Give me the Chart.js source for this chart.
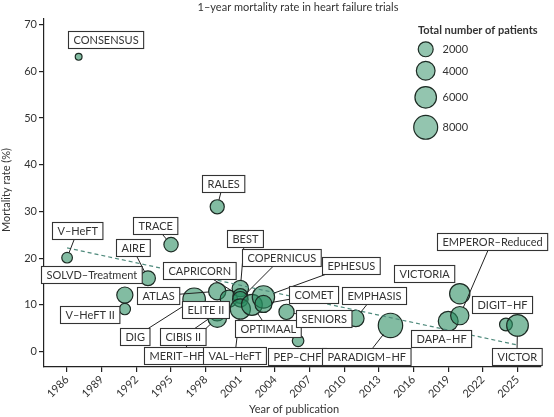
<!DOCTYPE html>
<html><head><meta charset="utf-8">
<script src="https://cdn.jsdelivr.net/npm/chart.js@4.4.1/dist/chart.umd.min.js"></script>
<style>html,body{margin:0;padding:0;background:#fff;}#wrap{width:554px;height:417px;}</style>
</head><body><div id="wrap"><canvas id="c" width="554" height="417"></canvas></div>
<script>
// ---- data ----
const trials = ['CONSENSUS','V\u2013HeFT','SOLVD\u2013Treatment','V\u2013HeFT II','AIRE','TRACE','DIG','ATLAS','RALES','CIBIS II','MERIT\u2013HF','ELITE II','BEST','CAPRICORN','COPERNICUS','VAL\u2013HeFT','OPTIMAAL','EPHESUS','COMET','SENIORS','PEP\u2013CHF','EMPHASIS','PARADIGM\u2013HF','DAPA\u2013HF','VICTORIA','EMPEROR\u2013Reduced','DIGIT\u2013HF','VICTOR'];
const years = [1987,1986,1991,1991,1993,1995,1997,1999,1999,1999,1999,2000,2001,2001,2001,2001,2002,2003,2003,2005,2006,2011,2014,2019,2020,2020,2024,2025];
const rates = [63.1,20.1,12.1,9.1,15.7,22.9,11.2,12.9,31.0,8.3,7.2,11.3,13.5,11.9,11.2,9.1,10.0,11.7,10.2,8.5,2.3,7.1,5.6,6.5,12.4,7.7,5.8,5.6];
const patients = [253,642,2569,804,2006,1749,6800,3164,1663,2647,3991,3152,2708,1959,2289,5010,5477,6632,3029,2128,850,2737,8442,4744,5050,3730,1212,6105];
const trendYears = [1986, 2025];
const trendRates = [22.2, 1.4];
const yearTicks = [1986,1989,1992,1995,1998,2001,2004,2007,2010,2013,2016,2019,2022,2025];
const rateTicks = [0,10,20,30,40,50,60,70];
const legendSizes = [2000,4000,6000,8000];

// ---- label layout: offset of label box centre from its point (px), and whether a leader line is drawn ----
const labelLayout = {
  'CONSENSUS':[27.4,-17,false], 'V\u2013HeFT':[10.6,-27.2,true], 'SOLVD\u2013Treatment':[-33.6,-20.2,false],
  'V\u2013HeFT II':[-35.1,5.3,false], 'AIRE':[-15.5,-30.4,true], 'TRACE':[-15.7,-18.7,true],
  'DIG':[-59.1,37.6,true], 'ATLAS':[-58.8,4.5,true], 'RALES':[5.8,-22.8,true], 'CIBIS II':[-34.5,24.1,true],
  'MERIT\u2013HF':[-40.8,37.9,true], 'ELITE II':[-23.6,10.2,false], 'BEST':[4.2,-50.4,true],
  'CAPRICORN':[-40.8,-25,true], 'COPERNICUS':[41.2,-41.4,true], 'VAL\u2013HeFT':[-5.5,46.8,true],
  'OPTIMAAL':[16.2,24.1,true], 'EPHESUS':[87.8,-31.8,true], 'COMET':[50.3,-9,true], 'SENIORS':[37.1,7.1,true],
  'PEP\u2013CHF':[-0.9,15.5,false], 'EMPHASIS':[18.3,-22.9,true], 'PARADIGM\u2013HF':[-24.3,31,true],
  'DAPA\u2013HF':[-7.4,16.8,false], 'VICTORIA':[-35.5,-20.5,false], 'EMPEROR\u2013Reduced':[31.9,-73.7,true],
  'DIGIT\u2013HF':[-3.6,-19.8,false], 'VICTOR':[-0.6,31,true]
};

const FONT = 'Lato, "Open Sans", sans-serif';
const TXT = '#333';
const FILL = 'rgba(40,140,95,0.58)';
const EDGE = '#1d2b24';
const nMin = Math.min(...patients), nMax = Math.max(...patients);
function rOuter(n){ return 4 + 8.8*Math.sqrt(Math.max(0,(n-nMin))/(nMax-nMin)); }

const overlay = {
  id:'overlay',
  afterDatasetsDraw(chart){
    const c = chart.ctx, xs = chart.scales.x, ys = chart.scales.y;
    c.save();
    c.font = '11px ' + FONT;
    const boxes = trials.map((t,i)=>{
      const L = labelLayout[t];
      const px = xs.getPixelForValue(years[i]), py = ys.getPixelForValue(rates[i]);
      const w = c.measureText(t).width + 10, h = 17;
      return {t, px, py, bx:px+L[0], by:py+L[1], w, h, line:L[2], r:rOuter(patients[i])};
    });
    // leader lines
    c.strokeStyle = '#222'; c.lineWidth = 1;
    boxes.forEach(b=>{
      if(!b.line) return;
      const vx = b.px-b.bx, vy = b.py-b.by;
      const s = Math.min(vx? (b.w/2)/Math.abs(vx):Infinity, vy? (b.h/2)/Math.abs(vy):Infinity);
      const ex = b.bx+vx*s, ey = b.by+vy*s;
      const d = Math.hypot(vx,vy);
      const sx = b.px - vx/d*b.r*0.9, sy = b.py - vy/d*b.r*0.9;
      c.beginPath(); c.moveTo(ex,ey); c.lineTo(sx,sy); c.stroke();
    });
    // boxes
    boxes.forEach(b=>{
      const x0 = Math.round(b.bx-b.w/2)+0.5, y0 = Math.round(b.by-b.h/2)+0.5;
      c.fillStyle = '#fff'; c.fillRect(x0,y0,b.w,b.h);
      c.strokeStyle = '#333'; c.lineWidth = 1.1; c.strokeRect(x0,y0,b.w,b.h);
      c.fillStyle = TXT; c.textAlign='center'; c.textBaseline='middle';
      c.fillText(b.t, x0+b.w/2, y0+b.h/2+0.5);
    });
    c.restore();
  },
  afterDraw(chart){
    const c = chart.ctx;
    c.save();
    c.fillStyle = TXT; c.textBaseline='middle';
    c.font = '11px ' + FONT; c.textAlign='center';
    c.fillText('1\u2013year mortality rate in heart failure trials', 298, 7);
    c.fillText('Year of publication', 294, 409);
    c.save(); c.translate(6, 190); c.rotate(-Math.PI/2); c.fillText('Mortality rate (%)', 0, 0); c.restore();
    c.textAlign='left';
    c.font = 'bold 11px ' + FONT;
    c.fillText('Total number of patients', 418, 30);
    c.font = '11px ' + FONT;
    const ly = [49.3, 70.7, 97.3, 127.3];
    legendSizes.forEach((n,i)=>{
      const r = rOuter(n) - 0.6;
      c.beginPath(); c.arc(425.7, ly[i], r, 0, Math.PI*2);
      c.fillStyle = 'rgba(40,140,95,0.5)'; c.fill();
      c.strokeStyle = EDGE; c.lineWidth = 1.2; c.stroke();
      c.fillStyle = TXT; c.fillText(String(n), 442.5, ly[i]+0.5);
    });
    c.restore();
  }
};

new Chart(document.getElementById('c').getContext('2d'), {
  type:'bubble',
  data:{ datasets:[
    { type:'line', order:0, data: trendYears.map((x,i)=>({x, y:trendRates[i]})),
      borderColor:'#4f8a7c', borderWidth:1.2, borderDash:[4,3], pointRadius:0, fill:false, tension:0 },
    { type:'bubble', order:1, data: years.map((x,i)=>({x, y:rates[i]})),
      backgroundColor: FILL, borderColor: EDGE, borderWidth:1.2,
      radius: ctx => rOuter(patients[ctx.dataIndex]) - 0.6, hoverRadius:0 }
  ]},
  options:{
    responsive:false, animation:false, events:[],
    layout:{ padding:{ top:19, right:0, bottom:0, left:0 } },
    plugins:{ legend:{display:false}, tooltip:{enabled:false}, title:{display:false} },
    scales:{
      x:{ type:'linear', min:1984, max:2027,
        afterBuildTicks: s => { s.ticks = yearTicks.map(v=>({value:v})); },
        afterFit: s => { s.height = 50; },
        ticks:{ autoSkip:false, maxRotation:45, minRotation:45, padding:1, color:'#333', font:{family:FONT, size:11},
          callback: v => String(v) },
        grid:{ display:true, drawOnChartArea:false, drawTicks:true, tickLength:5, color:'#222', lineWidth:1.2 },
        border:{ display:true, color:'#222', width:1.2 } },
      y:{ type:'linear', min:-3.3, max:71.2,
        afterBuildTicks: s => { s.ticks = rateTicks.map(v=>({value:v})); },
        afterFit: s => { s.width = 44; },
        ticks:{ padding:2, color:'#333', font:{family:FONT, size:11}, callback: v => String(v) },
        grid:{ display:true, drawOnChartArea:false, drawTicks:true, tickLength:5, color:'#222', lineWidth:1.2 },
        border:{ display:true, color:'#222', width:1.2 } }
    }
  },
  plugins:[overlay]
});
</script></body></html>
